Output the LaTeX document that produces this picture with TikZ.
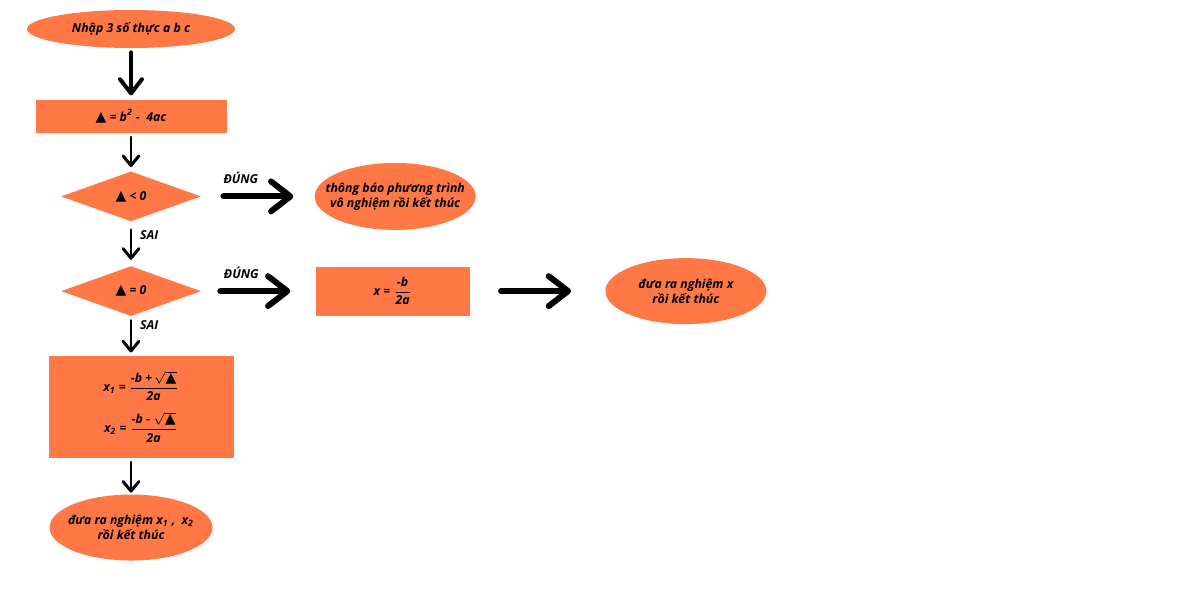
\documentclass[tikz,border=0pt]{standalone}
\usepackage{fontspec}
\setmainfont{Open Sans}
\newfontfamily\symf{DejaVu Sans}
\usepackage{amsmath}
\usetikzlibrary{positioning, arrows.meta, shapes.geometric}
\definecolor{boxorange}{RGB}{255,120,70}
\newcommand{\tri}{{\symf\fontsize{8}{8}\selectfont ▲}}
\newcommand{\frc}[2]{$\dfrac{\text{#1}}{\text{#2}}$}

\begin{document}
\begin{tikzpicture}[node distance={10mm}, font=\fontsize{7}{8.4}\selectfont\bfseries\itshape,
    term/.style = {ellipse, fill=boxorange, inner ysep=0pt, inner xsep=-3.5mm, align=center},
    proc/.style = {rectangle, fill=boxorange, inner sep=0pt, align=center},
    dec/.style = {diamond, fill=boxorange, inner sep=0pt, minimum width=28mm, minimum height=10mm},
    flow/.style = {line width=1.7pt, line cap=round, -{Straight Barb[round, length=5.5pt, width=9pt]}},
    bigflow/.style = {line width=3.4pt, line cap=round, -{Straight Barb[round, length=11pt, width=17pt]}}]
    \useasboundingbox (0,0) rectangle (24,-12);
    % main column
    \node[term, minimum width=41.6mm, minimum height=7.6mm] (input) at (2.62,-0.58) {Nhập 3 số thực a b c};
    \node[proc, minimum width=38.2mm, minimum height=6.6mm] (delta) [below=10.2mm of input] {\tri{} = b\textsuperscript{2} -\ \ 4ac};
    \node[dec] (neg) [below=7.6mm of delta] {\tri{} < 0};
    \node[dec] (zero) [below=8.8mm of neg] {\tri{} = 0};
    \node[proc, minimum width=37mm, minimum height=20.4mm] (roots) [below=7.8mm of zero, xshift=2mm]
        {x\textsubscript{1} = \frc{-b +\,$\sqrt{\text{\tri}}$}{2a}\\[2mm] x\textsubscript{2} = \frc{-b -\ $\sqrt{\text{\tri}}$}{2a}};
    \node[term, minimum width=32.6mm, minimum height=13.2mm] (out2) [below=7.2mm of roots, xshift=-2mm]
        {đưa ra nghiệm x\textsubscript{1} ,\ \ x\textsubscript{2}\\rồi kết thúc};
    % right branches
    \node[term, minimum width=32.2mm, minimum height=13.4mm] (none) [right=22.6mm of neg] {thông báo phương trình\\vô nghiệm rồi kết thúc};
    \node[proc, minimum width=30.8mm, minimum height=9.8mm] (single) [right=22.8mm of zero] {x = \frc{-b}{2a}};
    \node[term, minimum width=32.2mm, minimum height=13.2mm] (out1) [right=27mm of single] {đưa ra nghiệm x\\rồi kết thúc};

    \draw[flow, line width=2.3pt, -{Straight Barb[round, length=8pt, width=12.5pt]}, shorten <=0.8mm, shorten >=0.8mm] (input) -- (delta);
    \draw[flow, shorten <=0.8mm, shorten >=0.8mm] (delta) -- (neg);
    \draw[flow, shorten <=1.6mm, shorten >=1.2mm] (neg) -- node[right=1pt, pos=0.3] {SAI} (zero);
    \draw[flow, shorten <=0.8mm, shorten >=0.6mm] (zero) -- node[right=1pt, pos=0.23] {SAI} (zero |- roots.north);
    \draw[flow, shorten <=0.8mm, shorten >=0.3mm] (roots.south -| out2) -- (out2);
    \draw[bigflow, shorten <=4.4mm, shorten >=4.2mm] (neg) -- node[above=2pt, pos=0.35] {ĐÚNG} (none);
    \draw[bigflow, shorten <=3.8mm, shorten >=5mm] (zero) -- node[above=2pt, pos=0.35] {ĐÚNG} (single);
    \draw[bigflow, shorten <=6.2mm, shorten >=6.8mm] (single) -- (out1);
\end{tikzpicture}
\end{document}
